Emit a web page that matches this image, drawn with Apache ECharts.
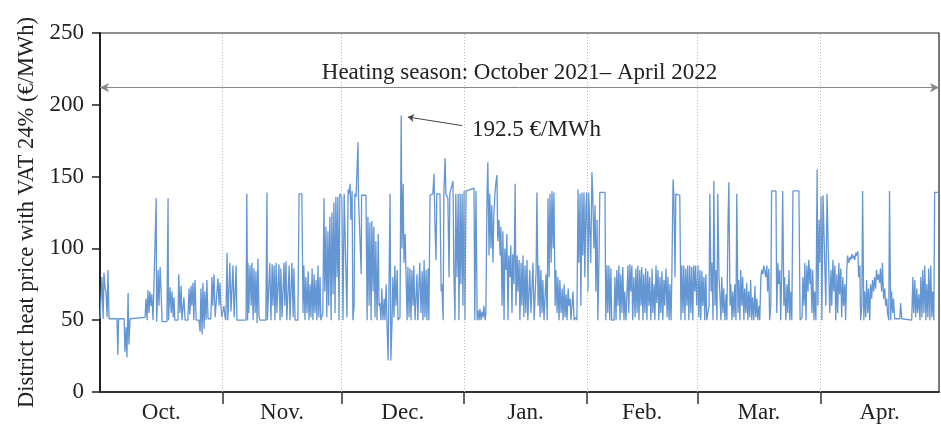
<!DOCTYPE html>
<html>
<head>
<meta charset="utf-8">
<script src="https://cdn.jsdelivr.net/npm/echarts@6/dist/echarts.min.js"></script>
<style>
html, body { margin: 0; padding: 0; background: #fff; }
#chart { width: 941px; height: 427px; }
</style>
</head>
<body>
<div id="chart"></div>
<script>
// hourly price trace as [day of season, €/MWh]
var oct = [[0,51],[0.5,80],[0.8,51],[1.0,83],[1.3,72],[1.5,70],[1.8,52],[2.0,85],[2.3,51],[4.3,51],[4.5,26],[4.7,51],[6.1,51],[6.3,28],[6.6,45],[6.8,24],[7.1,69],[7.3,33],[7.6,51],
  [11.4,52],[11.6,65],[11.9,50],[12.1,71],[12.4,55],[12.6,70],[12.9,60],[13.1,68],[13.4,50],[13.9,49],[14.2,135],[14.3,49],[14.4,55],[14.7,85],[14.9,60],[15.2,87],[15.4,88],[15.7,49],
  [16.9,49],[17.2,135],[17.3,50],[17.7,73],[18.0,55],[18.2,70],[18.5,52],[18.7,66],[18.9,50],[19.7,50],[19.9,82],[20.2,55],[20.5,74],[20.7,50],[21.2,66],[21.5,50],
  [22.2,50],[22.5,72],[22.7,54],[23.0,74],[23.2,60],[23.5,76],[23.7,50],[24.0,78],[24.3,50],[25.0,50],[25.3,42],[25.5,72],[25.8,40],[26.0,76],[26.3,44],[26.5,70],[26.8,50],[27.0,78],[27.3,51],
  [28.0,51],[28.3,80],[28.5,60],[28.8,82],[29.1,52],[29.6,51],[29.8,79],[30.1,60],[30.3,76],[30.6,58]];
var nov = [[30.8,52],[31.3,60],[31.6,52],[31.8,50],[32.1,97],[32.3,50],[32.8,90],[33.1,56],[33.6,88],[33.9,52],[34.4,88],[34.6,50],[36.9,50],[37.1,138],[37.3,50],
  [37.4,90],[37.6,55],[37.9,88],[38.2,60],[38.4,90],[38.7,50],[38.9,86],[39.2,55],[39.4,84],[39.7,48],[39.9,93],[40.2,52],[40.4,50],[41.9,50],[42.2,139],[42.3,50],
  [42.9,90],[43.2,50],[43.5,89],[43.7,60],[44.0,88],[44.2,50],[44.5,90],[44.7,55],[45.2,89],[45.5,50],[45.7,86],[46.0,52],[46.5,90],[46.7,60],[47.0,91],[47.2,50],
  [47.8,88],[48.0,50],[48.5,90],[48.8,52],[49.0,86],[49.3,50],[50.0,50],[50.3,138],[51.0,138],[51.3,55],[51.5,88],[51.8,50],[52.0,80],[52.3,55],[52.6,84],[52.8,50],
  [53.1,75],[53.3,52],[53.6,86],[53.8,50],[54.1,82],[54.3,55],[54.6,78],[54.8,50],[55.1,88],[55.3,52],[55.6,80],[55.8,50],[56.3,55],[56.6,135],[56.8,70],[57.1,115],
  [57.3,52],[57.6,112],[57.8,60],[58.1,122],[58.4,50],[58.6,125],[58.9,68],[59.1,132],[59.4,55],[59.6,136],[59.9,80],[60.1,136],[60.4,50],[60.6,138]];
var dec = [[60.9,138],[61.1,136],[61.4,50],[61.7,138],[62.1,138],[62.4,52],[62.7,141],[62.9,138],[63.2,145],[63.4,120],[63.7,140],[63.9,50],[64.2,60],[64.4,138],[64.7,136],
  [64.9,137],[65.2,174],[65.3,137],[65.7,137],[66.0,82],[66.1,137],[67.2,137],[67.5,50],[67.7,122],[68.0,60],[68.2,118],[68.5,50],[68.7,119],[69.0,70],[69.2,115],[69.5,52],
  [69.7,105],[70.0,50],[70.3,110],[70.5,60],[70.7,62],[71.0,50],[71.2,72],[71.5,50],[71.8,65],[72.0,50],[72.3,75],[72.5,50],[72.8,22],[73.0,22],[73.3,138],[73.5,22],
  [73.8,50],[74.0,80],[74.3,52],[74.5,88],[74.8,60],[75.1,85],[75.3,50],[75.8,52],[76.1,192.5],[76.3,100],[76.6,145],[76.8,90],[77.1,110],[77.3,85],[77.6,50],[77.8,87],
  [78.1,52],[78.3,86],[78.6,50],[78.8,85],[79.1,60],[79.3,88],[79.6,50],[80.1,82],[80.3,50],[80.8,90],[81.1,55],[81.4,84],[81.6,50],[81.9,92],[82.1,52],[82.4,85],[82.6,50],
  [82.9,86],[83.1,50],[83.4,137],[83.6,138],[84.1,138],[84.4,152],[84.6,120],[84.9,92],[85.1,138],[85.9,138],[86.2,70],[86.4,75],[86.7,50],[86.9,140],[87.2,163],[87.4,138],
  [87.9,135],[88.2,80],[88.4,138],[88.9,139],[89.2,147],[89.4,85],[89.7,50],[89.9,138],[90.2,80],[90.5,138],[90.7,50],[91.0,138],[91.2,75],[91.5,138]];
var jan = [[91.7,60],[92.0,140],[92.2,50],[92.5,140],[93.5,141],[94.5,142],[94.7,50],[95.0,140],[95.3,50],[95.5,57],[95.8,50],[96.0,58],[96.3,50],[96.5,56],[96.8,52],[97.0,60],
  [97.3,50],[97.5,55],[97.8,138],[98.0,160],[98.3,95],[98.5,138],[98.8,100],[99.0,130],[99.3,90],[99.5,122],[99.8,138],[100.0,145],[100.3,151],[100.5,105],[100.8,120],
  [101.1,95],[101.3,115],[101.6,60],[101.8,112],[102.1,50],[102.3,100],[102.6,85],[102.8,110],[103.1,50],[103.3,95],[103.6,80],[103.8,102],[104.1,55],[104.3,96],[104.6,75],
  [104.9,145],[105.1,60],[105.4,95],[105.6,70],[105.9,92],[106.1,50],[106.4,90],[106.6,60],[106.9,95],[107.1,52],[107.4,88],[107.6,55],[107.9,92],[108.1,50],[108.6,85],
  [108.9,55],[109.4,90],[109.7,50],[110.2,85],[110.4,139],[110.7,60],[110.9,88],[111.2,52],[111.4,85],[111.7,55],[111.9,78],[112.2,50],[112.7,82],[113.0,50],[113.2,135],
  [113.5,80],[113.7,138],[114.0,90],[114.2,140],[114.5,100],[114.7,139],[115.0,60],[115.2,85],[115.5,55],[115.7,80],[116.0,50],[116.2,78],[116.5,55],[116.8,72],[117.0,50],
  [117.3,75],[117.5,52],[117.8,68],[118.0,50],[118.3,72],[118.5,60],[118.8,65],[119.0,50],[119.5,70],[119.8,50],[120.3,52],[120.5,50],[120.8,141],[121.0,90],[121.3,138],
  [121.5,60],[121.8,139],[122.0,95],[122.3,139],[122.5,80]];
var feb = [[122.8,130],[123.0,139],[123.3,70],[123.5,139],[123.8,139],[124.0,90],[124.3,153],[124.5,139],[124.8,100],[125.1,130],[125.3,70],[125.6,120],[125.8,50],[126.1,95],
  [126.3,139],[127.6,139],[127.8,50],[128.1,88],[128.3,55],[128.6,88],[128.8,50],[129.1,86],[129.3,50],[129.9,50],[130.1,80],[130.4,50],[130.6,85],[130.9,60],[131.1,88],
  [131.4,50],[131.6,82],[131.9,55],[132.1,87],[132.4,50],[132.6,70],[132.9,50],[133.4,88],[133.6,55],[133.9,89],[134.1,70],[134.4,88],[134.6,50],[134.9,80],[135.2,52],
  [135.4,86],[135.7,55],[135.9,88],[136.2,50],[136.4,85],[136.7,60],[136.9,87],[137.2,50],[137.4,82],[137.7,55],[137.9,86],[138.2,50],[138.4,84],[138.7,60],[138.9,80],
  [139.2,50],[139.5,86],[139.7,55],[140.0,75],[140.2,50],[140.5,88],[140.7,62],[141.0,85],[141.2,50],[141.5,80],[141.7,55],[142.0,84],[142.2,50],[142.5,78],[142.7,60],
  [143.0,86],[143.3,52],[143.5,80],[143.8,50],[144.0,75],[144.3,50],[144.5,82],[144.8,148],[145.0,138],[145.3,80],[145.5,138],[146.5,137],[146.8,50],[147.0,88],[147.3,55],
  [147.5,88],[147.8,50],[148.0,86],[148.3,60],[148.5,88],[148.8,50],[149.0,88],[149.3,55],[149.5,87],[149.8,50],[150.0,88],[150.3,70],[150.5,88]];
var mar = [[150.8,60],[151.1,88],[151.3,52],[151.6,85],[151.8,50],[152.1,84],[152.3,60],[152.6,80],[152.8,50],[153.1,82],[153.3,50],[153.9,60],[154.1,138],[154.4,70],[154.6,90],
  [154.9,50],[155.1,147],[155.4,60],[155.6,85],[155.9,50],[156.1,138],[156.4,80],[156.6,70],[156.9,50],[157.1,80],[157.4,55],[157.6,72],[157.9,50],[158.2,68],[158.4,50],
  [158.7,120],[158.9,146],[159.2,60],[159.4,75],[159.7,50],[159.9,70],[160.2,52],[160.4,75],[160.7,50],[160.9,138],[161.2,55],[161.4,78],[161.7,50],[161.9,85],[162.2,60],
  [162.4,80],[162.7,50],[162.9,72],[163.2,55],[163.4,76],[163.7,50],[163.9,70],[164.2,52],[164.4,78],[164.7,50],[164.9,66],[165.2,50],[165.5,74],[165.7,52],[166.0,65],
  [166.2,50],[166.5,60],[166.7,50],[167.0,80],[167.2,85],[167.5,82],[167.7,88],[168.0,84],[168.2,80],[168.5,88],[168.7,70],[169.0,86],[169.2,50],[169.5,60],[169.7,140],
  [170.8,140],[171.0,55],[171.3,90],[171.5,75],[171.8,85],[172.0,50],[172.3,88],[172.5,140],[172.8,60],[173.0,80],[173.3,50],[173.6,75],[173.8,55],[174.1,85],[174.3,50],
  [174.6,70],[174.8,50],[175.1,140],[176.6,140],[176.9,50],[177.4,52],[177.6,80],[177.9,60],[178.1,90],[178.4,50],[178.6,88],[178.9,70],[179.1,92],[179.4,75],[179.6,86],
  [179.9,55],[180.1,85],[180.4,50],[180.6,70],[180.9,50],[181.2,155],[181.4,60]];
var apr = [[181.7,120],[181.9,90],[182.2,136],[182.4,50],[182.7,137],[183.2,137],[183.4,60],[183.7,138],[184.2,137],[184.4,55],[184.7,85],[184.9,60],[185.2,92],[185.4,70],
  [185.7,88],[185.9,50],[186.2,82],[186.4,55],[186.7,90],[186.9,68],[187.2,86],[187.4,52],[187.7,80],[187.9,60],[188.2,75],[188.4,50],[188.7,85],[188.9,95],[189.2,90],
  [189.5,94],[189.7,92],[190.0,96],[190.2,93],[190.5,95],[190.7,92],[191.0,97],[191.2,95],[191.5,98],[191.7,80],[192.0,88],[192.2,50],[192.5,60],[192.7,140],[193.0,50],
  [193.2,70],[193.5,52],[193.7,78],[194.0,55],[194.2,72],[194.5,50],[194.7,75],[195.0,65],[195.2,78],[195.5,70],[195.7,80],[196.0,72],[196.2,85],[196.5,78],[196.7,82],
  [197.0,76],[197.2,86],[197.5,70],[197.7,90],[198.0,65],[198.3,72],[198.5,60],[198.8,65],[199.0,55],[199.3,50],[199.5,140],[199.8,50],[200.0,70],[200.3,55],[200.5,65],
  [200.8,51],[202.1,51],[202.3,62],[202.6,51],[205.1,50],[205.4,80],[205.6,55],[205.9,78],[206.1,52],[206.4,72],[206.6,55],[206.9,68],[207.2,50],[207.4,80],[207.7,52],
  [207.9,85],[208.2,55],[208.4,88],[208.7,50],[208.9,75],[209.2,52],[209.4,86],[209.7,50],[209.9,88],[210.2,52],[210.4,70],[210.7,50],[210.9,139],[211.7,139]];

var monthStarts = [31, 61, 92, 123, 151, 182];
var monthMids = [15.5, 46, 76.5, 107.5, 137, 166.5, 197];
var monthNames = ['Oct.', 'Nov.', 'Dec.', 'Jan.', 'Feb.', 'Mar.', 'Apr.'];
var seasonEnd = 212;
var seasonLevel = 212;
var peak = { day: 76.1, value: 192.5 };

var priceData = oct.concat(nov, dec, jan, feb, mar, apr);
var serif = '"Liberation Serif", "DejaVu Serif", serif';

var chart = echarts.init(document.getElementById('chart'));
chart.setOption({
	animation: false,
	grid: {
		left: 100,
		right: 2,
		top: 33,
		bottom: 35,
		show: true,
		borderColor: '#222',
		borderWidth: 1.2,
		backgroundColor: 'transparent'
	},
	xAxis: {
		type: 'value',
		min: 0,
		max: seasonEnd,
		axisLine: { onZero: false, lineStyle: { color: '#333', width: 2 } },
		axisTick: { show: true, inside: false, length: 12, customValues: monthStarts, lineStyle: { color: '#333', width: 1.5 } },
		axisLabel: {
			customValues: monthMids,
			formatter: function(v) {
				var i = monthMids.indexOf(v)
				return i >= 0 ? monthNames[i] : ''
			},
			fontFamily: serif,
			fontSize: 23,
			color: '#222',
			margin: 9
		},
		splitLine: { show: false }
	},
	yAxis: {
		type: 'value',
		min: 0,
		max: 250,
		interval: 50,
		name: 'District heat price with VAT 24% (€/MWh)',
		nameLocation: 'middle',
		nameGap: 56,
		nameTextStyle: { fontFamily: serif, fontSize: 22.5, color: '#222' },
		axisLine: { show: true, lineStyle: { color: '#222', width: 2 } },
		axisTick: { show: true, inside: false, length: 8, lineStyle: { color: '#222', width: 1.5 } },
		axisLabel: { fontFamily: serif, fontSize: 23, color: '#222', margin: 16 },
		splitLine: { show: false }
	},
	series: [{
		// month dividers, kept under the trace
		type: 'line',
		z: 1,
		data: [],
		markLine: {
			silent: true,
			symbol: ['none', 'none'],
			label: { show: false },
			lineStyle: { type: [1, 2], color: '#b8b8b8', width: 1 },
			data: monthStarts.map(function(d) { return { xAxis: d } })
		}
	}, {
		type: 'line',
		z: 3,
		data: [],
		markLine: {
			silent: true,
			symbol: ['arrow', 'arrow'],
			symbolSize: [7, 9],
			lineStyle: { type: 'solid', color: '#888', width: 1 },
			label: {
				show: true,
				position: 'middle',
				distance: 3,
				formatter: 'Heating season: October 2021– April 2022',
				fontFamily: serif,
				fontSize: 23,
				color: '#222'
			},
			data: [[{ coord: [0, seasonLevel] }, { coord: [seasonEnd, seasonLevel] }]]
		}
	}, {
		type: 'line',
		z: 3,
		data: [],
		markLine: {
			silent: true,
			symbol: ['none', 'arrow'],
			symbolSize: 6,
			lineStyle: { type: 'solid', color: '#444', width: 1 },
			label: { show: false },
			data: [[{ coord: [91.5, 185.5] }, { coord: [peak.day + 1.7, peak.value - 1] }]]
		},
		markPoint: {
			silent: true,
			symbol: 'circle',
			symbolSize: 0,
			label: {
				show: true,
				position: 'right',
				distance: 0,
				formatter: peak.value + ' €/MWh',
				fontFamily: serif,
				fontSize: 23,
				color: '#222'
			},
			data: [{ coord: [94, 182.5] }]
		}
	}, {
		name: 'price',
		type: 'line',
		z: 2,
		data: priceData,
		showSymbol: false,
		symbol: 'none',
		lineStyle: { color: '#6496d4', width: 1.3 },
		emphasis: { disabled: true }
	}]
});
</script>
</body>
</html>
